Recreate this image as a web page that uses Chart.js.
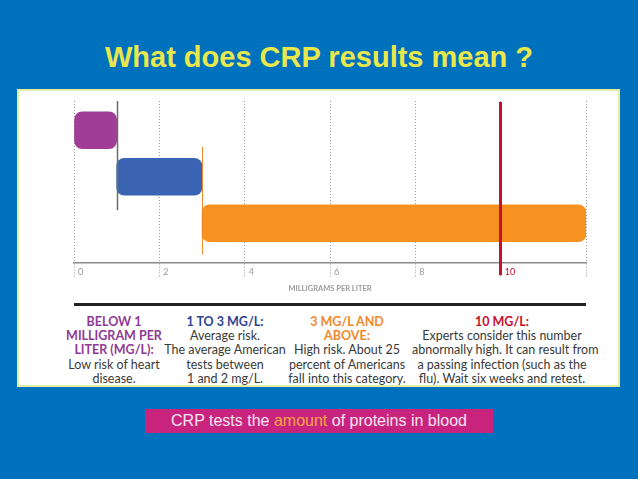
<!DOCTYPE html>
<html>
<head>
<meta charset="utf-8">
<script src="https://cdn.jsdelivr.net/npm/chart.js"></script>
<style>
  html, body { margin: 0; padding: 0; }
  body { width: 638px; height: 479px; background: #0071bd; position: relative; overflow: hidden; font-family: "Liberation Sans", Arial, sans-serif; }
  #titulo { position: absolute; left: 0; top: 41px; width: 638px; text-align: center; color: #e8e84c; font-weight: bold; font-size: 29px; }
  #painel { position: absolute; left: 17px; top: 89px; width: 599px; height: 294px; background: #fff; border: 2px solid #e4eea0; }
  #grafico { position: absolute; left: 0; top: 0; }
  #linha { position: absolute; left: 55px; top: 212px; width: 512px; height: 3px; background: #222; }
  .col { position: absolute; top: 224px; text-align: center; font-family: Lato, "Open Sans", sans-serif; font-size: 12.5px; line-height: 14.2px; color: #3a3a3a; white-space: nowrap; }
  .col b { display: block; font-weight: bold; }
  #rodape { position: absolute; left: 145px; top: 409px; width: 348px; height: 24px; background: #c9247d; color: #f6e4f2; font-size: 16px; line-height: 24px; text-align: center; }
  #rodape span { color: #f9a444; }
</style>
</head>
<body>
<div id="titulo">What does CRP results mean ?</div>
<div id="painel">
  <canvas id="grafico" width="599" height="212"></canvas>
  <div id="linha"></div>
  <div class="col" style="left:45px;width:100px;"><b style="color:#8f3b96">BELOW 1<br>MILLIGRAM PER<br>LITER (MG/L):</b>Low risk of heart<br>disease.</div>
  <div class="col" style="left:136px;width:140px;"><b style="color:#2d4490">1 TO 3 MG/L:</b>Average risk.<br>The average American<br>tests between<br>1 and 2 mg/L.</div>
  <div class="col" style="left:268px;width:120px;"><b style="color:#f0892a">3 MG/L AND<br>ABOVE:</b>High risk. About 25<br>percent of Americans<br>fall into this category.</div>
  <div class="col" style="left:393px;width:180px;"><b style="color:#c8102e">10 MG/L:</b>Experts consider this number<br>abnormally high. It can result from<br>a passing infection (such as the<br>flu). Wait six weeks and retest.</div>
</div>
<div id="rodape">CRP tests the <span>amount</span> of proteins in blood</div>

<script>
// Faixas de CRP (mg/L)
const faixas = ['Abaixo de 1', '1 a 3', '3 ou mais'];
const inicioFaixa = [0, 1, 3];
const fimFaixa = [1, 3, 12];
const coresFaixa = ['#a03d97', '#3a64b1', '#f7911f'];

// eixo x
const eixoMin = 0;
const eixoMax = 12;
const eixoPasso = 2;
const tituloEixo = 'MILLIGRAMS PER LITER';

// marcadores verticais
const marcadores = [1, 3, 10];

const dadosBarras = faixas.map((f, i) => ({ x: [inicioFaixa[i], fimFaixa[i]], y: i }));

// desenha as linhas verticais dos limites
const linhasLimite = {
    id: 'linhasLimite',
    afterDatasetsDraw(chart) {
        const { ctx, scales: { x, y } } = chart;
        const estilos = [
            { cor: '#6b6b6b', largura: 1.5, de: y.top, ate: y.getPixelForValue(1.72) },
            { cor: '#f0892a', largura: 1, de: y.getPixelForValue(0.36), ate: y.getPixelForValue(2.67) },
            { cor: '#c8102e', largura: 3, de: y.top + 1, ate: y.bottom + 12 }
        ];
        ctx.save();
        marcadores.forEach((m, i) => {
            const px = Math.round(x.getPixelForValue(m)) + (i === 2 ? -0.5 : 0.5);
            ctx.strokeStyle = estilos[i].cor;
            ctx.lineWidth = estilos[i].largura;
            ctx.beginPath();
            ctx.moveTo(px, estilos[i].de);
            ctx.lineTo(px, estilos[i].ate);
            ctx.stroke();
        });
        ctx.restore();
    }
};

const grafico = new Chart(document.getElementById('grafico'), {
    type: 'bar',
    data: {
        labels: faixas,
        datasets: [{
            data: dadosBarras,
            backgroundColor: coresFaixa,
            borderRadius: 8,
            borderSkipped: false,
            barThickness: 37
        }]
    },
    options: {
        indexAxis: 'y',
        responsive: false,
        animation: false,
        layout: { padding: { left: 55, right: 32, top: 10, bottom: 10 } },
        plugins: { legend: { display: false }, tooltip: { enabled: false } },
        scales: {
            y: {
                type: 'linear',
                reverse: true,
                offset: false,
                min: -0.63,
                max: 2.86,
                display: false
            },
            x: {
                min: eixoMin,
                max: eixoMax,
                ticks: {
                    stepSize: eixoPasso,
                    align: 'start',
                    labelOffset: 4,
                    padding: -11,
                    color: ctx => ctx.tick && ctx.tick.value === 10 ? '#c8102e' : '#9a9a9a',
                    font: { family: 'Lato', size: 9 },
                    callback: v => v === eixoMax ? '' : v
                },
                grid: {
                    color: '#9c9c9c',
                    lineWidth: 1,
                    tickLength: 14,
                    tickColor: '#9c9c9c',
                    tickBorderDash: [1, 2]
                },
                border: { color: '#8a8a8a', width: 1.5, dash: [1, 2] },
                title: {
                    display: true,
                    text: tituloEixo,
                    color: '#9a9a9a',
                    font: { family: 'Lato', size: 7.5, weight: 'bold' },
                    padding: { top: 18, bottom: 0 }
                }
            }
        }
    },
    plugins: [linhasLimite]
});
</script>
</body>
</html>
